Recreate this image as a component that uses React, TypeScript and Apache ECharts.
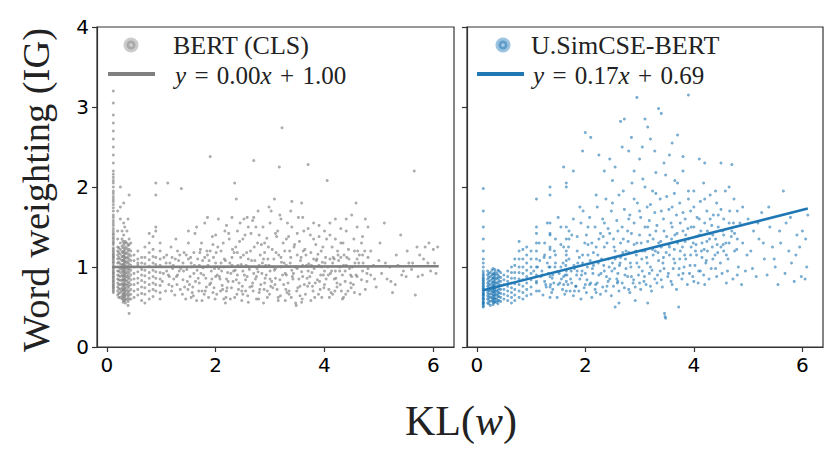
import React, { useEffect, useRef } from "react";
import * as echarts from "echarts";

// ---------- data ----------
const xTicks = [0, 2, 4, 6];

const bertFit = [[0.1, 1.0], [6.1, 1.01]];
const simFit = [[0.12, 0.71], [6.1, 1.73]];

const bertStripeX = [0.12, 0.2, 0.25, 0.28, 0.31, 0.34, 0.37, 0.41, 0.5, 0.57, 0.64, 0.7, 0.78, 0.85, 0.9, 0.98, 0.12, 0.22, 0.3, 0.33, 0.39, 0.44];
const bertStripeY = [
  [0.68,0.72,0.75,0.78,0.8,0.82,0.85,0.88,0.9,0.92,0.95,0.97,1.0,1.02,1.05,1.08,1.1,1.13,1.16,1.2,1.24,1.28,1.32,1.37,1.42,1.48,1.55,1.62,1.7,1.78,1.85,1.92,2.0,2.05,2.12,2.2,2.3,2.4,2.5,2.6,2.7,2.8,2.9,3.05,3.2,0.7,0.77,0.87,1.12,1.18],
  [0.65,0.7,0.75,0.8,0.85,0.9,0.95,1.05,1.1,1.15,1.2,1.25,1.35,1.45,1.7],
  [0.62,0.68,0.72,0.78,0.83,0.88,0.93,0.98,1.04,1.1,1.16,1.22,1.3,1.6,1.75,2.0],
  [0.6,0.64,0.7,0.74,0.79,0.84,0.9,0.96,1.02,1.08,1.13,1.19,1.26,1.35,1.45],
  [0.58,0.63,0.67,0.71,0.76,0.8,0.85,0.89,0.94,0.99,1.04,1.09,1.14,1.2,1.28,1.4,1.55,1.8],
  [0.55,0.6,0.65,0.7,0.74,0.78,0.83,0.87,0.92,0.97,1.02,1.07,1.12,1.18,1.25,1.32],
  [0.6,0.66,0.71,0.77,0.82,0.88,0.93,0.99,1.05,1.11,1.17,1.23,1.3,1.45],
  [0.42,0.6,0.65,0.7,0.76,0.81,0.87,0.93,0.98,1.04,1.1,1.16,1.22,1.28,1.35,1.9],
  [0.62,0.7,0.78,0.85,0.92,1.0,1.08,1.15],
  [0.65,0.72,0.8,0.86,0.94,1.02,1.1,1.2,1.05],
  [0.58,0.67,0.75,0.83,0.9,0.97,1.05,1.12],
  [0.55,0.66,0.74,0.81,0.89,0.96,1.04,1.12,1.25],
  [0.6,0.7,0.78,0.86,0.93,1.01,1.09,1.18,1.3,1.42],
  [0.63,0.72,0.8,0.88,0.96,1.05,1.13,1.22,1.38],
  [0.7,0.78,0.86,0.94,1.03,1.12,1.45,1.5,1.9,2.05],
  [0.6,0.68,0.77,0.85,0.93,1.02,1.1,1.2,1.3],
  [0.74,0.83,0.93,0.99,1.06,1.15,1.22,1.3,1.35,1.4,1.45,1.52,1.58,1.65,1.74,1.82,1.88,1.95,2.08,2.16],
  [0.62,0.67,0.73,0.78,0.84,0.89,0.95,1.0,1.06,1.12,1.18,1.24],
  [0.56,0.61,0.66,0.72,0.77,0.83,0.88,0.93,0.98,1.03,1.08,1.13,1.18,1.24,1.32],
  [0.58,0.63,0.68,0.73,0.79,0.84,0.9,0.95,1.0,1.06,1.11,1.16,1.22,1.3,1.5],
  [0.52,0.57,0.63,0.68,0.74,0.79,0.85,0.9,0.96,1.01,1.07,1.13,1.2,1.27,1.6],
  [0.6,0.66,0.72,0.78,0.84,0.9,0.96,1.02,1.08,1.14,1.2,1.3],
];

const bertCloud = [
  [1.02,0.82],[1.05,1.12],[1.08,0.7],[1.1,0.95],[1.12,2.05],[1.15,0.88],[1.18,1.25],[1.2,0.76],[1.22,1.02],[1.25,0.65],[1.27,1.35],[1.3,0.9],[1.32,1.08],[1.35,0.72],[1.37,1.98],[1.4,0.84],[1.42,1.18],[1.45,0.6],[1.47,0.97],[1.5,1.3],[1.52,0.78],[1.55,1.05],[1.57,0.68],[1.6,0.92],[1.62,1.42],[1.65,0.58],[1.67,1.1],[1.7,0.8],[1.72,1.22],[1.75,0.7],[1.77,0.99],[1.8,1.55],[1.82,0.86],[1.85,1.15],[1.87,0.62],[1.9,2.38],[1.92,0.95],[1.95,1.28],[1.97,0.74],[2.0,1.05],
  [2.02,0.66],[2.05,1.6],[2.07,0.88],[2.1,1.2],[2.12,0.77],[2.15,1.0],[2.17,1.45],[2.2,0.7],[2.22,0.93],[2.25,1.35],[2.27,0.6],[2.3,1.12],[2.32,0.82],[2.35,2.05],[2.37,1.25],[2.4,0.9],[2.42,0.72],[2.45,1.55],[2.47,1.03],[2.5,0.66],[2.52,1.6],[2.55,0.84],[2.57,1.18],[2.6,0.56],[2.62,0.97],[2.65,1.42],[2.67,0.76],[2.7,2.33],[2.72,1.08],[2.75,0.88],[2.77,1.3],[2.8,0.68],[2.82,1.15],[2.85,0.92],[2.87,1.5],[2.9,0.8],[2.92,1.02],[2.95,0.62],[2.97,1.25],[3.0,0.95],
  [3.02,1.7],[3.05,0.74],[3.07,1.1],[3.1,0.86],[3.12,1.38],[3.15,0.58],[3.17,2.25],[3.2,1.0],[3.22,2.74],[3.25,0.78],[3.27,1.2],[3.3,0.9],[3.32,1.55],[3.35,0.7],[3.37,1.05],[3.4,1.82],[3.42,0.85],[3.45,1.28],[3.47,0.55],[3.5,0.98],[3.52,1.62],[3.55,0.76],[3.57,1.12],[3.6,0.88],[3.62,1.45],[3.65,0.66],[3.67,1.02],[3.7,2.28],[3.72,0.8],[3.75,1.18],[3.77,0.93],[3.8,1.35],[3.82,0.62],[3.85,1.08],[3.87,0.84],[3.9,1.52],[3.92,0.72],[3.95,1.0],[3.97,1.25],
  [4.0,0.78],[4.02,1.12],[4.05,2.08],[4.07,0.9],[4.1,1.4],[4.12,0.68],[4.15,1.05],[4.18,0.85],[4.2,1.6],[4.23,0.75],[4.25,1.15],[4.28,0.95],[4.3,1.3],[4.33,0.6],[4.35,1.02],[4.38,0.82],[4.4,1.45],[4.43,0.7],[4.45,1.1],[4.48,0.9],[4.5,1.65],[4.53,0.78],[4.55,1.2],[4.58,1.8],[4.6,0.88],[4.63,1.05],[4.65,0.66],[4.68,1.3],[4.7,0.95],[4.75,1.6],[4.78,0.82],[4.8,1.12],[4.85,0.9],[4.9,1.02],[4.95,0.75],
  [5.0,1.08],[5.05,0.92],[5.1,1.55],[5.15,0.85],[5.2,1.0],[5.25,0.68],[5.3,0.78],[5.35,1.02],[5.4,1.4],[5.45,0.95],[5.5,0.88],[5.55,1.05],[5.6,0.97],[5.65,2.2],[5.67,0.65],[5.7,1.25],[5.75,1.15],[5.8,0.9],[5.85,1.25],[5.9,1.05],[5.95,0.95],[6.0,1.22],[6.05,0.92],[6.08,1.25],
  [1.13,0.9],[1.23,0.85],[1.33,0.95],[1.43,0.75],[1.53,0.88],[1.63,0.82],[1.73,0.92],[1.83,0.75],[1.93,0.85],[2.03,0.9],[2.13,0.72],[2.23,0.82],[2.33,0.95],[2.43,0.8],[2.53,0.9],[2.63,0.75],[2.73,0.85],[2.83,0.78],[2.93,0.9],[3.03,0.82],[3.13,0.72],[3.23,0.9],[3.33,0.8],[3.43,0.92],[3.53,0.85],[3.63,0.78],[3.73,0.88],[3.83,0.8],[3.93,0.9],[4.03,0.85],[4.13,0.95],[4.23,0.8],[4.33,0.9],
  [1.16,1.05],[1.26,1.1],[1.36,0.98],[1.46,1.15],[1.56,1.0],[1.66,0.96],[1.76,1.08],[1.86,1.02],[1.96,1.12],[2.06,0.98],[2.16,1.1],[2.26,1.05],[2.36,0.96],[2.46,1.12],[2.56,1.02],[2.66,1.08],[2.76,0.98],[2.86,1.05],[2.96,1.1],[3.06,1.0],[3.16,1.15],[3.26,1.05],[3.36,1.2],[3.46,1.0],[3.56,1.08],[3.66,1.15],[3.76,1.02],[3.86,1.1],[3.96,1.06],[4.06,1.0],[4.16,1.12],[4.26,1.08],[4.36,1.15],[4.46,0.98],[4.56,1.05],
  [1.19,0.7],[1.29,0.78],[1.39,0.66],[1.49,0.72],[1.59,0.64],[1.69,0.7],[1.79,0.66],[1.89,0.78],[1.99,0.6],[2.09,0.7],[2.19,0.62],[2.29,0.74],[2.39,0.66],[2.49,0.76],[2.59,0.64],[2.69,0.7],[2.79,0.6],[2.89,0.72],[2.99,0.66],[3.09,0.78],[3.19,0.64],[3.29,0.72],[3.39,0.62],[3.49,0.7],[3.59,0.6],[3.69,0.76],[3.79,0.7],[3.89,0.66],[3.99,0.74],[4.09,0.62],[4.19,0.7],[4.29,0.78],[4.39,0.66],[4.49,0.74],
  [1.74,1.3],[1.84,1.2],[1.94,1.38],[2.04,1.25],[2.14,1.3],[2.24,1.42],[2.34,1.18],[2.44,1.32],[2.54,1.4],[2.64,1.2],[2.74,1.5],[2.84,1.28],[2.94,1.36],[3.04,1.22],[3.14,1.45],[3.24,1.3],[3.34,1.38],[3.44,1.25],[3.54,1.32],[3.64,1.22],[3.74,1.4],[3.84,1.28],[3.94,1.2],[4.04,1.35],[4.14,1.25],[4.24,1.2],[4.34,1.3],[4.44,1.22],[4.54,1.35],[4.64,1.15],[4.74,1.2],
  [2.18,0.55],[2.48,0.58],[2.88,0.55],[3.28,0.58],[3.48,0.52],[3.58,0.56],[2.58,1.62],[2.78,1.7],[2.98,1.75],[3.18,1.65],[3.38,1.7],[3.58,1.8],[2.38,1.85],[3.08,1.85],[2.68,1.58],
];

const bertCloudExtra = [
  [1.04,0.92],[1.09,1.05],[1.14,0.78],[1.21,0.98],[1.28,0.88],[1.34,1.15],[1.41,0.95],[1.48,0.82],[1.54,1.12],[1.58,0.75],[1.61,1.02],[1.68,0.86],[1.71,1.18],[1.78,0.9],[1.81,0.7],[1.88,1.08],[1.91,0.8],[1.98,0.98],[2.01,1.18],[2.08,0.85],[2.11,0.95],[2.18,1.08],[2.21,0.74],[2.28,0.92],[2.31,1.22],[2.38,0.84],[2.41,1.02],[2.48,0.7],[2.51,1.15],[2.58,0.88],[2.61,1.0],[2.68,0.8],[2.71,1.25],[2.78,0.94],[2.81,0.72],[2.88,1.1],[2.91,0.86],[2.98,1.02],[3.01,0.76],[3.08,0.96],[3.11,1.18],[3.18,0.84],[3.21,1.06],[3.28,0.92],[3.31,0.68],[3.38,1.12],[3.41,0.88],[3.48,1.0],[3.51,0.74],[3.58,0.94],[3.61,1.2],[3.68,0.86],[3.71,1.04],[3.78,0.76],[3.81,0.98],[3.88,1.16],[3.91,0.82],[3.98,0.9],[4.01,1.05],[4.08,0.72],[4.11,0.92],[4.18,1.1],[4.21,0.86],[4.28,1.0],[4.31,0.7],[4.38,0.95],[4.41,1.12],[4.48,0.8],[4.51,1.0],[4.58,0.9],[4.61,1.2],[4.68,0.84],[4.71,1.05],[4.78,0.92],
  [1.5,1.45],[1.65,1.5],[1.85,1.62],[2.0,1.4],[2.2,1.52],[2.3,1.62],[2.4,1.45],[2.5,1.35],[2.6,1.5],[2.7,1.62],[2.8,1.4],[2.9,1.3],[3.0,1.55],[3.1,1.42],[3.2,1.6],[3.3,1.35],[3.4,1.5],[3.5,1.42],[3.6,1.62],[3.7,1.48],[3.8,1.55],[3.9,1.38],[4.0,1.45],[4.1,1.55],[4.2,1.35],[4.3,1.48],[4.4,1.6],[4.6,1.5],[4.7,1.38],[4.8,1.5],
  [1.55,0.62],[1.75,0.58],[1.95,0.68],[2.15,0.6],[2.35,0.62],[2.55,0.7],[2.75,0.6],[2.95,0.7],[3.15,0.62],[3.35,0.66],[3.55,0.64],[3.75,0.58],[3.95,0.62],[4.15,0.66],[4.35,0.62],[4.55,0.68],[4.75,0.72],
  [1.1,1.15],[1.2,1.12],[1.3,1.2],[1.4,1.05],[1.5,1.1],[1.6,1.18],[1.7,1.02],[1.8,1.12],[1.9,1.2],[2.0,0.88],[2.1,1.05],[2.2,0.85],[2.3,1.02],[2.4,1.18],[2.5,0.95],[2.6,1.1],[2.7,0.92],[2.8,1.02],[2.9,1.18],[3.0,0.85],[3.1,0.98],[3.2,1.12],[3.3,1.02],[3.4,0.96],[3.5,1.15],[3.6,1.02],[3.7,0.95],[3.8,1.1],[3.9,1.02],[4.0,0.95],[4.1,1.1],[4.2,0.95],[4.3,1.12],[4.4,1.02],[4.5,0.88],[4.6,1.1],[4.7,1.15],[4.8,0.98],
  [4.85,1.2],[4.92,0.85],[5.02,1.3],[5.12,1.05],[5.22,0.82],[5.32,1.15],[5.42,0.9],[5.52,1.2],[5.62,1.05],[5.72,0.88],[5.82,1.1],[5.92,1.3],[6.02,1.05],
];

const simStripeX = [0.12, 0.2, 0.25, 0.28, 0.31, 0.34, 0.37, 0.41, 0.5, 0.57, 0.64, 0.7, 0.78, 0.85, 0.92, 1.0, 1.1, 1.35, 1.65, 0.12, 0.22, 0.3, 0.33, 0.39, 0.44];
const simStripeY = [
  [0.5,0.53,0.56,0.59,0.62,0.65,0.68,0.71,0.74,0.77,0.8,0.83,0.86,0.9,0.95,1.0,1.05,1.2,1.5,1.7,1.98,0.55,0.6,0.66,0.72],
  [0.55,0.6,0.64,0.68,0.72,0.76,0.8,0.85,0.9,0.95],
  [0.52,0.57,0.62,0.66,0.7,0.74,0.78,0.83,0.88,0.93],
  [0.58,0.62,0.67,0.71,0.75,0.8,0.85,0.9,0.96],
  [0.55,0.6,0.64,0.69,0.73,0.77,0.82,0.87,0.92],
  [0.57,0.61,0.66,0.7,0.74,0.79,0.84,0.89,0.94],
  [0.56,0.6,0.65,0.7,0.75,0.8,0.86,0.92],
  [0.58,0.63,0.68,0.73,0.78,0.83,0.88,0.95],
  [0.6,0.66,0.72,0.78,0.84,0.9],
  [0.58,0.64,0.7,0.76,0.82,0.88,0.95],
  [0.55,0.62,0.68,0.74,0.8,0.86,0.93,1.0],
  [0.58,0.65,0.72,0.79,0.86,0.93,1.02,1.1],
  [0.62,0.7,0.78,0.85,0.93,1.0,1.1,1.2,1.32],
  [0.6,0.68,0.76,0.84,0.92,1.0,1.1,1.22],
  [0.64,0.72,0.8,0.88,0.96,1.05,1.15,1.25],
  [0.66,0.75,0.84,0.92,1.0,1.1,1.2],
  [0.7,0.8,0.9,1.0,1.1,1.2,1.3,1.42,1.5,1.85],
  [0.62,0.75,0.88,1.0,1.12,1.25,1.4,1.55,1.9,2.0],
  [0.7,0.82,0.95,1.08,1.2,1.35,1.5,2.0,2.05],
  [0.51,0.54,0.57,0.61,0.64,0.67,0.7,0.73,0.76,0.79,0.82,0.85,0.88,0.92,1.1,1.35],
  [0.54,0.58,0.62,0.66,0.7,0.74,0.78,0.82,0.87,0.92],
  [0.53,0.57,0.61,0.65,0.69,0.73,0.77,0.81,0.86,0.91,0.98],
  [0.56,0.6,0.64,0.68,0.72,0.76,0.81,0.86,0.91,0.97],
  [0.54,0.58,0.63,0.67,0.71,0.76,0.81,0.86,0.9,0.96],
  [0.57,0.62,0.67,0.72,0.77,0.82,0.87,0.93],
];

const simCloud = [
  [1.2,0.95],[1.25,0.82],[1.3,1.05],[1.4,0.9],[1.45,1.15],[1.5,0.78],[1.55,1.0],[1.6,0.88],[1.7,1.1],[1.75,0.8],[1.8,0.98],[1.85,1.2],[1.9,0.85],[1.95,1.05],[2.0,0.92],[2.05,1.15],[2.1,0.8],[2.15,1.02],[2.2,1.25],[2.25,0.9],[2.3,1.1],[2.35,0.95],[2.4,1.3],[2.45,0.85],[2.5,1.05],[2.55,1.2],[2.6,0.92],[2.65,1.12],[2.7,1.35],[2.75,0.98],[2.8,1.18],[2.85,0.88],[2.9,1.28],[2.95,1.05],[3.0,1.4],[3.05,0.95],[3.1,1.2],[3.15,1.32],[3.2,1.0],[3.25,1.15],[3.3,1.45],[3.35,1.08],[3.4,1.25],[3.45,0.98],[3.5,1.38],[3.55,1.15],[3.6,1.5],[3.65,1.05],[3.7,1.3],[3.75,1.2],[3.8,1.45],[3.85,1.1],[3.9,1.35],[3.95,1.25],[4.0,1.5],[4.05,1.15],[4.1,1.4],[4.15,1.3],[4.2,1.55],[4.25,1.2],[4.3,1.42],[4.35,1.1],[4.4,1.35],[4.45,1.5],[4.5,1.25],[4.55,1.4],[4.6,1.15],[4.65,1.3],[4.7,1.45],[4.75,1.2],[4.8,1.35],
  [1.15,0.7],[1.22,0.65],[1.28,0.75],[1.38,0.68],[1.42,0.8],[1.48,0.62],[1.58,0.72],[1.62,0.66],[1.68,0.78],[1.72,0.7],[1.78,0.64],[1.82,0.76],[1.88,0.7],[1.92,0.6],[1.98,0.74],[2.02,0.68],[2.08,0.78],[2.12,0.62],[2.18,0.72],[2.22,0.8],[2.28,0.66],[2.32,0.75],[2.38,0.7],[2.42,0.82],[2.48,0.64],[2.52,0.76],[2.58,0.85],[2.62,0.7],[2.68,0.8],[2.72,0.74],[2.78,0.88],[2.82,0.68],[2.88,0.8],[2.92,0.75],[2.98,0.9],[3.02,0.72],[3.08,0.82],[3.12,0.78],[3.18,0.92],[3.22,0.7],[3.28,0.85],[3.32,0.8],[3.38,0.95],[3.42,0.75],[3.46,0.42],[3.47,0.38],[3.48,0.36],[3.52,0.88],[3.58,0.82],[3.62,0.98],[3.68,0.72],[3.72,0.9],[3.78,0.85],[3.82,1.0],[3.88,0.78],[3.92,0.92],[3.98,0.88],[4.02,1.02],[4.08,0.8],[4.12,0.95],[4.18,0.9],[4.22,1.05],[4.28,0.85],[4.32,0.98],[4.42,0.88],[4.52,0.92],[4.62,0.95],[4.72,0.85],[4.82,1.0],[4.88,0.78],[2.55,0.5],[2.62,0.55],[2.92,0.58],[3.15,0.55],[3.72,0.5],
  [1.25,1.3],[1.35,1.42],[1.45,1.35],[1.55,1.5],[1.6,1.25],[1.7,1.45],[1.78,1.6],[1.85,1.38],[1.92,1.55],[1.96,1.7],[2.02,1.4],[2.08,1.62],[2.12,1.3],[2.18,1.5],[2.22,1.75],[2.28,1.42],[2.32,1.6],[2.38,1.85],[2.42,1.48],[2.48,1.7],[2.52,1.35],[2.58,1.58],[2.62,1.9],[2.68,1.5],[2.72,1.72],[2.78,1.45],[2.82,1.65],[2.86,2.05],[2.9,1.55],[2.96,1.8],[3.02,1.62],[3.06,2.1],[3.1,1.5],[3.14,1.75],[3.18,1.58],[3.24,1.95],[3.28,1.68],[3.32,1.52],[3.38,1.85],[3.44,1.6],[3.48,2.15],[3.54,1.72],[3.58,1.55],[3.64,1.92],[3.68,1.65],[3.74,1.8],[3.8,2.2],[3.84,1.6],[3.9,1.85],[3.94,1.7],[4.0,1.95],[4.06,1.62],[4.12,1.82],[4.18,2.05],[4.24,1.7],[4.3,1.9],[4.36,1.65],[4.42,1.8],[4.5,1.72],[4.58,1.95],[4.66,1.7],[4.74,1.85],
  [1.6,2.25],[1.78,2.2],[1.95,2.45],[2.0,2.68],[2.1,2.62],[2.25,2.4],[2.35,2.2],[2.45,2.35],[2.55,2.25],[2.65,2.82],[2.68,2.5],[2.72,2.85],[2.8,2.45],[2.85,2.62],[2.95,3.12],[3.05,2.5],[3.1,2.85],[3.15,2.75],[3.2,2.6],[3.28,2.45],[3.35,2.98],[3.4,2.92],[3.45,2.3],[3.55,2.4],[3.6,2.55],[3.7,2.65],[3.8,2.38],[3.9,3.15],[4.1,2.35],[4.2,2.3],[4.5,2.3],[4.7,2.28],[3.0,2.35],[2.5,2.08],[2.9,2.2],[3.3,2.18],[3.65,2.08],
  [4.85,1.55],[4.9,1.3],[4.95,0.95],[5.0,1.6],[5.05,1.2],[5.1,1.45],[5.15,0.88],[5.2,1.35],[5.25,1.68],[5.3,1.1],[5.35,0.9],[5.4,1.5],[5.45,1.25],[5.5,1.0],[5.55,0.78],[5.6,1.3],[5.65,1.95],[5.7,1.55],[5.75,1.2],[5.8,1.05],[5.85,0.82],[5.9,1.4],[5.95,1.25],[6.0,1.45],[6.05,0.85],[6.08,1.0],[6.1,1.65],
  [1.12,1.0],[1.18,0.88],[1.24,1.12],[1.32,0.92],[1.36,0.78],[1.44,1.0],[1.52,0.92],[1.56,0.85],[1.64,1.02],[1.66,0.9],[1.74,0.95],[1.84,0.9],[1.86,1.05],[1.94,0.95],[2.04,1.0],[2.14,0.92],[2.24,1.05],[2.34,1.02],[2.44,1.0],[2.54,0.98],[2.64,1.05],[2.74,1.1],[2.84,1.0],[2.94,1.15],[3.04,1.1],[3.14,1.05],[3.24,1.22],[3.34,1.18],[3.44,1.12],[3.54,1.28],[3.64,1.22],[3.74,1.1],[3.84,1.32],[3.94,1.15],[4.04,1.28],[4.14,1.2],[4.24,1.32],[4.34,1.25],[4.44,1.18],[4.54,1.28],
];

const simCloudExtra = [
  [1.05,0.95],[1.1,0.82],[1.16,1.08],[1.21,0.9],[1.27,0.78],[1.33,1.0],[1.39,0.86],[1.43,1.2],[1.49,0.94],[1.53,0.8],[1.59,1.05],[1.63,0.9],[1.69,1.25],[1.73,0.85],[1.79,1.02],[1.83,0.76],[1.89,1.12],[1.93,0.9],[1.99,1.3],[2.03,0.84],[2.09,1.08],[2.13,0.98],[2.19,0.78],[2.23,1.15],[2.29,0.92],[2.33,1.38],[2.39,0.88],[2.43,1.1],[2.49,0.95],[2.53,1.25],[2.59,0.8],[2.63,1.02],[2.69,1.18],[2.73,0.9],[2.79,1.32],[2.83,1.05],[2.89,0.84],[2.93,1.2],[2.99,1.0],[3.03,1.3],[3.09,0.88],[3.13,1.12],[3.19,1.4],[3.23,0.96],[3.29,1.2],[3.33,0.9],[3.39,1.32],[3.43,1.05],[3.49,1.18],[3.53,0.92],[3.59,1.35],[3.63,1.1],[3.69,1.42],[3.73,0.98],[3.79,1.25],[3.83,1.15],[3.89,1.48],[3.93,1.02],[3.99,1.3],[4.03,1.2],[4.09,0.95],[4.13,1.45],[4.19,1.22],[4.23,1.08],[4.29,1.35],[4.33,1.52],[4.39,1.15],[4.43,1.28],[4.49,1.05],[4.53,1.45],[4.59,1.3],[4.63,1.1],[4.69,1.38],[4.73,1.55],[4.79,1.22],
  [1.3,1.55],[1.5,1.62],[1.7,1.35],[1.9,1.75],[2.05,1.5],[2.2,1.9],[2.35,1.55],[2.5,1.8],[2.6,1.45],[2.7,1.95],[2.8,1.6],[2.9,1.85],[3.0,1.7],[3.1,2.0],[3.2,1.78],[3.3,1.92],[3.4,1.7],[3.5,1.88],[3.6,1.75],[3.7,2.05],[3.8,1.68],[3.9,1.95],[4.0,1.75],[4.1,1.6],[4.2,1.85],[4.3,1.6],[4.4,1.95],[4.55,1.6],[4.65,2.0],[4.8,1.7],
  [1.4,0.72],[1.6,0.78],[1.8,0.7],[2.0,0.78],[2.2,0.68],[2.4,0.76],[2.6,0.82],[2.8,0.72],[3.0,0.8],[3.2,0.76],[3.4,0.84],[3.6,0.78],[3.8,0.92],[4.0,0.82],[4.2,0.78],[4.4,0.98],[4.6,0.8],[4.8,0.9],
  [1.15,1.3],[1.25,1.15],[1.35,1.22],[1.45,1.05],[1.55,1.28],[1.65,1.15],[1.75,1.4],[1.85,0.95],[1.95,1.15],[2.05,1.28],[2.15,1.18],[2.25,1.35],[2.35,1.25],[2.45,1.42],[2.55,1.1],[2.65,1.3],[2.75,1.2],[2.85,1.42],[2.95,1.3],[3.05,1.2],[3.15,1.5],[3.25,1.35],[3.35,1.3],[3.45,1.45],[3.55,1.25],[3.65,1.4],[3.75,1.55],[3.85,1.4],[3.95,1.5],[4.05,1.38],[4.15,1.12],[4.25,1.45],[4.35,1.4],[4.45,1.65],[4.55,1.2],[4.65,1.55],[4.75,1.42],
  [4.9,1.75],[4.98,1.15],[5.08,0.98],[5.18,1.55],[5.28,1.3],[5.38,1.75],[5.48,1.1],[5.58,1.45],[5.68,0.92],[5.78,1.62],[5.88,1.15],[5.98,0.88],[6.06,1.35],
];

const legendNames = ["BERT (CLS)", "U.SimCSE-BERT"];
const fitLabels = [
  ["0.00", "1.00"],
  ["0.17", "0.69"],
];

// ---------- helpers ----------
function stripes(xs: number[], ys: number[][]) {
  const out: number[][] = [];
  xs.forEach((x, i) => ys[i].forEach((y) => out.push([x, y])));
  return out;
}

const GRAY = "#808080";
const BLUE = "#1f77b4";
const AX = "#333333";
const tickFont = "DejaVu Sans";
const serif = "Liberation Serif";
const SP = "\u2004";

function xAxisCfg(gridIndex: number) {
  return {
    type: "value",
    gridIndex,
    min: -0.18,
    max: 6.38,
    axisLine: { show: true, onZero: false, lineStyle: { color: AX, width: 1.2 } },
    axisTick: { show: true, inside: false, length: 5, customValues: xTicks, lineStyle: { color: AX, width: 1.2 } },
    axisLabel: { show: true, customValues: xTicks, margin: 8, fontFamily: tickFont, fontSize: 20, color: "#000" },
    splitLine: { show: false },
  };
}

function yAxisCfg(gridIndex: number, labels: boolean) {
  return {
    type: "value",
    gridIndex,
    min: 0,
    max: 4,
    interval: 1,
    axisLine: { show: true, onZero: false, lineStyle: { color: AX, width: 1.2 } },
    axisTick: { show: true, inside: false, length: 5, lineStyle: { color: AX, width: 1.2 } },
    axisLabel: { show: labels, margin: 8, fontFamily: tickFont, fontSize: 20, color: "#000" },
    splitLine: { show: false },
  };
}

function legendGraphic(mx: number, textX: number, lineX0: number, lineX1: number, name: string, fit: string[], color: string, ring: string[]) {
  return [
    { type: "circle", shape: { cx: mx, cy: 45, r: 7.5 }, style: { fill: ring[0] } },
    { type: "circle", shape: { cx: mx, cy: 45, r: 4.5 }, style: { fill: ring[1] } },
    { type: "circle", shape: { cx: mx, cy: 45, r: 1.8 }, style: { fill: ring[2] } },
    {
      type: "text", x: textX, y: 45,
      style: { text: name, font: `26px "${serif}"`, fill: "#222", textAlign: "left", textVerticalAlign: "middle" },
    },
    { type: "line", shape: { x1: lineX0, y1: 74, x2: lineX1, y2: 74 }, style: { stroke: color, lineWidth: 4 } },
    {
      type: "text", x: textX + 2, y: 75,
      style: {
        text: `{i|y}${SP}=${SP}${fit[0]}{i|x}${SP}+${SP}${fit[1]}`,
        font: `25px "${serif}"`, fill: "#222", textAlign: "left", textVerticalAlign: "middle",
        rich: { i: { fontStyle: "italic", fontFamily: serif, fontSize: 25, fill: "#222" } },
      },
    },
  ];
}

export default function App() {
  const ref = useRef<HTMLDivElement>(null);
  useEffect(() => {
    if (!ref.current) return;
    const chart = echarts.init(ref.current, null, { renderer: "svg" });
    const bertData = stripes(bertStripeX, bertStripeY).concat(bertCloud, bertCloudExtra);
    const simData = stripes(simStripeX, simStripeY).concat(simCloud, simCloudExtra);
    chart.setOption({
      animation: false,
      backgroundColor: "#ffffff",
      grid: [
        { left: 97, top: 27, width: 357, height: 320, show: true, borderColor: AX, borderWidth: 1.2, backgroundColor: "transparent" },
        { left: 467, top: 27, width: 356, height: 320, show: true, borderColor: AX, borderWidth: 1.2, backgroundColor: "transparent" },
      ],
      xAxis: [xAxisCfg(0), xAxisCfg(1)],
      yAxis: [yAxisCfg(0, true), yAxisCfg(1, false)],
      series: [
        {
          type: "scatter", xAxisIndex: 0, yAxisIndex: 0, data: bertData,
          symbolSize: 3, itemStyle: { color: GRAY, opacity: 0.65 }, silent: true,
        },
        {
          type: "line", xAxisIndex: 0, yAxisIndex: 0, data: bertFit, showSymbol: false, symbol: "none",
          lineStyle: { color: GRAY, width: 2.6 }, silent: true,
        },
        {
          type: "scatter", xAxisIndex: 1, yAxisIndex: 1, data: simData,
          symbolSize: 3, itemStyle: { color: BLUE, opacity: 0.6 }, silent: true,
        },
        {
          type: "line", xAxisIndex: 1, yAxisIndex: 1, data: simFit, showSymbol: false, symbol: "none",
          lineStyle: { color: BLUE, width: 2.6 }, silent: true,
        },
      ],
      graphic: [
        ...legendGraphic(131, 173, 108, 155, legendNames[0], fitLabels[0], GRAY, ["#cccccc", "#aaaaaa", "#d0d0d0"]),
        ...legendGraphic(503, 531, 477, 524, legendNames[1], fitLabels[1], BLUE, ["#9cc3e0", "#5f9dca", "#a9cbe4"]),
        {
          type: "text", x: 36, y: 190, rotation: Math.PI / 2,
          style: { text: "Word weighting (IG)", font: `38.5px "${serif}"`, fill: "#222", textAlign: "center", textVerticalAlign: "middle" },
        },
        {
          type: "text", x: 461, y: 421,
          style: {
            text: "{n|KL(}{i|w}{n|)}", font: `42px "${serif}"`, fill: "#222", textAlign: "center", textVerticalAlign: "middle",
            rich: {
              n: { fontFamily: serif, fontSize: 42, fill: "#222" },
              i: { fontFamily: serif, fontSize: 42, fontStyle: "italic", fill: "#222" },
            },
          },
        },
      ],
    });
    return () => chart.dispose();
  }, []);
  return <div ref={ref} style={{ position: "fixed", left: 0, top: 0, width: 830, height: 474 }} />;
}
